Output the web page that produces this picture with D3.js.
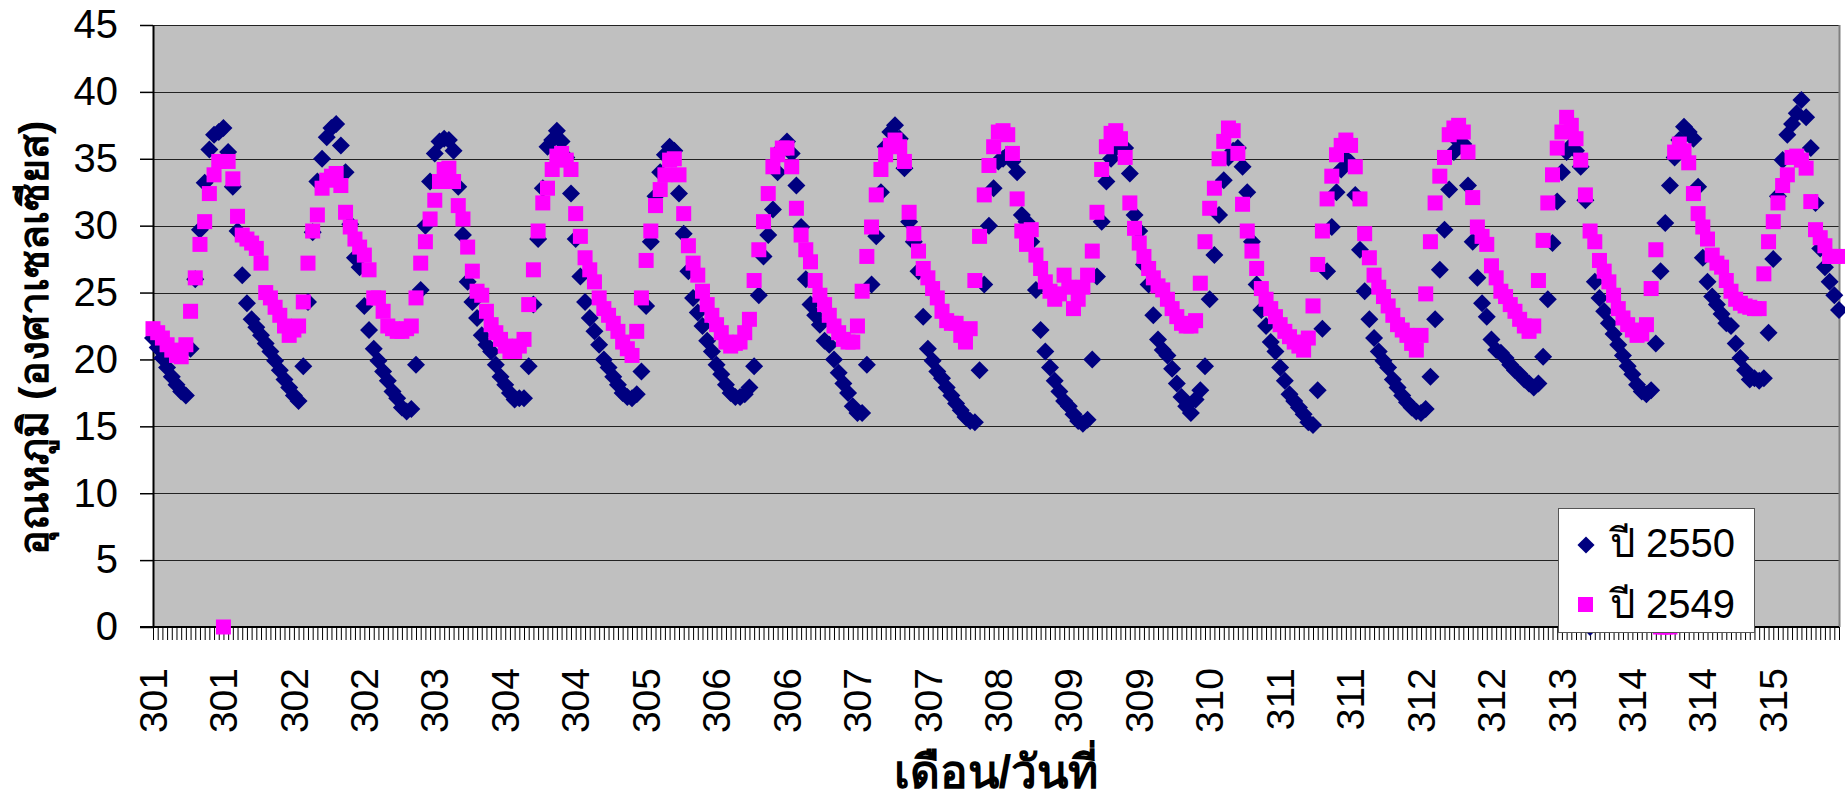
<!DOCTYPE html>
<html>
<head>
<meta charset="utf-8">
<script src="https://cdn.jsdelivr.net/npm/d3@7"></script>
<style>
  body { margin: 0; background: #fff; }
  text { font-family: "Liberation Sans", Arial, "Noto Sans", sans-serif; }
</style>
</head>
<body>
<script>
// hourly temperature, one row per day (301 .. 315)
const t2550 = [
  21.6,20.9,20.1,19.4,18.7,18.1,17.6,17.3,20.8,26.0,29.7,33.2,35.7,36.8,37.0,37.3,35.5,32.9,29.6,26.3,24.2,23.0,22.4,21.8,
  21.2,20.6,19.9,19.2,18.5,17.9,17.3,16.9,19.5,24.3,29.5,33.3,35.0,36.6,37.3,37.6,36.0,34.0,30.1,27.6,26.9,24.0,22.2,20.8,
  19.9,19.1,18.4,17.6,17.1,16.4,16.1,16.3,19.6,25.2,30.0,33.3,35.4,36.3,36.5,36.4,35.6,32.9,29.3,25.8,24.3,23.1,21.8,21.1,
  20.6,19.6,18.7,18.1,17.5,17.0,17.1,17.1,19.5,24.1,29.0,32.8,35.9,36.4,37.1,36.3,35.1,32.4,29.0,26.2,24.3,23.1,22.1,21.1,
  20.0,19.4,18.7,18.1,17.5,17.2,17.1,17.4,19.1,24.0,28.8,32.2,34.0,35.3,35.9,35.6,32.4,29.4,26.6,24.6,23.5,22.5,21.4,20.6,
  19.6,18.9,18.1,17.5,17.2,17.2,17.4,17.9,19.5,24.8,27.7,29.3,31.2,34.0,35.8,36.3,35.4,33.0,29.9,26.0,24.1,23.3,22.6,21.4,
  21.1,20.0,19.0,18.2,17.5,16.5,16.0,16.0,19.6,25.6,29.2,32.5,35.9,37.0,37.5,36.5,34.3,30.3,28.8,26.6,23.2,20.8,19.9,19.1,
  18.6,17.9,17.3,16.7,16.2,15.7,15.4,15.3,19.2,25.6,30.0,32.8,34.8,35.0,35.3,34.8,34.0,30.8,30.3,28.8,25.2,22.2,20.6,19.4,
  18.4,17.6,16.9,16.5,15.9,15.4,15.2,15.5,20.0,26.2,30.3,33.3,35.0,35.8,36.0,35.8,33.9,30.8,29.6,27.1,25.6,23.3,21.5,20.7,
  20.3,19.3,18.2,17.2,16.5,16.0,17.0,17.7,19.5,24.5,27.8,30.8,33.4,35.1,35.6,35.8,34.4,32.5,28.8,25.6,23.7,22.5,21.3,20.6,
  19.4,18.4,17.4,16.9,16.4,15.9,15.3,15.1,17.7,22.3,26.6,29.9,32.5,34.2,35.0,34.7,32.3,28.2,25.1,23.0,21.6,20.6,19.9,19.4,
  18.5,17.9,17.3,16.8,16.4,16.1,16.0,16.3,18.7,23.0,26.7,29.7,32.7,35.5,36.3,36.1,33.0,28.8,26.1,24.2,23.2,21.5,20.7,20.5,
  20.1,19.6,19.2,18.9,18.5,18.2,17.9,18.2,20.2,24.5,28.7,31.8,34.0,35.5,36.0,35.6,34.4,31.9,0,25.8,24.6,23.6,22.7,21.9,
  21.1,20.3,19.5,18.9,18.1,17.6,17.4,17.7,21.2,26.6,30.2,33.0,35.1,36.4,37.4,37.0,36.5,32.9,27.6,25.8,24.7,24.1,23.4,22.7,
  22.5,21.2,20.1,19.2,18.5,18.6,18.4,18.6,22.0,27.5,32.2,34.9,36.8,37.6,38.4,39.4,38.1,35.8,31.7,28.3,26.9,25.8,24.8,23.7
]
const t2549 = [
  22.3,22.0,21.6,21.1,20.7,20.3,20.2,21.1,23.6,26.1,28.6,30.3,32.4,33.8,34.8,0,34.8,33.5,30.7,29.3,29.0,28.7,28.3,27.2,
  25.0,24.6,23.9,23.3,22.5,21.8,22.2,22.5,24.3,27.2,29.6,30.8,32.8,33.4,33.7,33.9,33.0,31.0,29.9,29.0,28.4,27.8,26.7,24.6,
  24.6,23.6,22.5,22.3,22.1,22.1,22.3,22.5,24.6,27.2,28.8,30.5,31.9,33.3,34.2,34.3,33.3,31.5,30.5,28.4,26.6,25.1,24.8,23.6,
  22.6,22.0,21.5,21.0,20.6,20.6,21.0,21.5,24.1,26.7,29.6,31.7,32.8,34.2,35.2,35.4,34.9,34.2,30.9,29.2,27.6,26.7,25.8,24.6,
  23.8,23.3,22.7,22.1,21.3,20.8,20.3,22.1,24.6,27.4,29.6,31.5,32.7,33.8,34.9,35.0,33.8,30.9,28.5,27.2,26.3,25.1,24.1,23.3,
  22.6,22.0,21.3,21.0,21.2,21.3,22.0,23.0,25.9,28.2,30.3,32.4,34.4,35.3,35.8,35.8,34.4,31.3,29.3,28.2,27.3,25.9,24.8,24.1,
  23.3,22.5,22.0,21.5,21.3,21.3,22.5,25.1,27.7,29.9,32.3,34.2,35.3,36.0,36.4,35.9,34.8,31.0,29.4,28.1,26.8,26.1,25.3,24.6,
  23.6,22.9,22.7,22.7,21.8,21.3,22.3,25.9,29.2,32.3,34.5,35.9,37.0,37.1,36.8,35.4,32.0,29.6,28.6,29.7,27.8,26.8,25.8,25.1,
  24.5,24.9,26.3,25.4,23.8,24.5,25.4,26.3,28.1,31.0,34.2,35.9,36.9,37.1,36.5,35.1,31.7,29.8,28.7,27.7,26.8,26.1,25.5,25.2,
  24.5,23.8,23.2,22.7,22.5,22.5,22.9,25.7,28.8,31.3,32.8,35.0,36.3,37.3,37.1,35.4,31.6,29.6,28.1,26.8,25.3,24.5,23.8,23.2,
  22.6,22.1,21.7,21.3,21.0,20.7,21.6,24.0,27.1,29.6,32.0,33.7,35.3,36.0,36.4,36.0,34.4,32.0,29.4,27.6,26.3,25.4,24.7,24.0,
  23.3,22.6,22.2,21.8,21.2,20.7,21.8,24.9,28.8,31.7,33.7,35.1,36.8,37.3,37.5,37.0,35.5,32.1,29.9,29.2,28.6,27.0,26.1,25.1,
  24.7,24.1,23.6,23.0,22.5,22.1,22.5,25.9,28.9,31.7,33.8,35.8,37.0,38.1,37.5,36.5,34.9,32.3,29.6,28.8,27.4,26.6,25.8,24.8,
  23.8,23.1,22.6,22.2,21.8,21.9,22.6,25.3,28.2,0,0,0,35.5,36.1,35.6,34.7,32.4,30.9,29.9,29.0,27.8,27.2,26.9,25.9,
  25.1,24.5,24.2,24.0,23.9,23.8,23.8,26.4,28.8,30.3,31.7,33.0,33.8,35.1,35.2,34.9,34.3,31.8,29.7,29.1,28.5,27.7,27.7,27.7
]
// label shown every 15th hour
const tickLabels = ['301','301','302','302','303','304','304','305','306','306','307','307',
  '308','309','309','310','311','311','312','312','313','314','314','315']
const labelStep = 15
const yTicks = [0,5,10,15,20,25,30,35,40,45]
const seriesNames = ['ปี 2550','ปี 2549']
const xTitle = 'เดือน/วันที่'
const yTitle = 'อุณหภูมิ (องศาเซลเซียส)'

const W = 1845, H = 798
const plot = {left: 153, right: 1839, top: 25, bottom: 627}

const idx = d3.range(t2550.length)
const x = d3.scalePoint().domain(idx).range([plot.left, plot.right])
const y = d3.scaleLinear().domain([0,45]).range([plot.bottom, plot.top])

const svg = d3.select('body').append('svg')
  .attr('width', W)
  .attr('height', H)

svg.append('rect')
  .attr('x', plot.left).attr('y', plot.top)
  .attr('width', plot.right - plot.left).attr('height', plot.bottom - plot.top)
  .attr('fill', '#c0c0c0')

// gridlines
svg.selectAll('.grid')
  .data(yTicks.filter(d => d > 0))
  .enter().append('line')
  .attr('class', 'grid')
  .attr('x1', plot.left).attr('x2', plot.right)
  .attr('y1', d => Math.round(y(d)) + 0.5).attr('y2', d => Math.round(y(d)) + 0.5)
  .attr('stroke', '#222').attr('stroke-width', 1)

// right border
svg.append('line')
  .attr('x1', plot.right + 0.5).attr('x2', plot.right + 0.5)
  .attr('y1', plot.top).attr('y2', plot.bottom)
  .attr('stroke', '#808080').attr('stroke-width', 2)

// y axis
const yAxis = svg.append('g')
  .attr('transform', `translate(${plot.left},0)`)
  .call(d3.axisLeft(y).tickValues(yTicks).tickSize(13).tickPadding(22).tickSizeOuter(0))
yAxis.select('.domain').attr('stroke', '#000').attr('stroke-width', 2)
yAxis.selectAll('.tick line').attr('stroke', '#000').attr('stroke-width', 1.5)
yAxis.selectAll('.tick text')
  .attr('font-size', 40).attr('fill', '#000')
  .style('font-family', '"Liberation Sans", Arial, sans-serif')

// x axis, a tick for every hour
const xAxis = svg.append('g')
  .attr('transform', `translate(0,${plot.bottom})`)
  .call(d3.axisBottom(x).tickSize(13).tickFormat('').tickSizeOuter(0))
xAxis.select('.domain').attr('stroke', '#000').attr('stroke-width', 2)
  .attr('d', `M${plot.left - 13},0H${plot.right}`)
xAxis.selectAll('.tick line').attr('stroke', '#000').attr('stroke-width', 1)

svg.selectAll('.xlab')
  .data(tickLabels)
  .enter().append('text')
  .attr('class', 'xlab')
  .attr('transform', (d, i) => `translate(${x(i * labelStep)},${plot.bottom + 41}) rotate(-90)`)
  .attr('text-anchor', 'end')
  .attr('dy', '0.35em')
  .attr('font-size', 39)
  .text(d => d)

// axis titles
svg.append('text')
  .attr('x', (plot.left + plot.right) / 2).attr('y', 788)
  .attr('text-anchor', 'middle')
  .attr('font-size', 46).attr('font-weight', 'bold')
  .text(xTitle)

svg.append('text')
  .attr('transform', `translate(34,338) rotate(-90)`)
  .attr('text-anchor', 'middle')
  .attr('dy', '0.35em')
  .attr('font-size', 41).attr('font-weight', 'bold')
  .text(yTitle)

// markers
const diamond = 'M0,-9L9,0L0,9L-9,0Z'
svg.append('g').selectAll('path')
  .data(t2550)
  .enter().append('path')
  .attr('transform', (d, i) => `translate(${x(i)},${y(d)})`)
  .attr('d', diamond)
  .attr('fill', '#000080')

svg.append('g').selectAll('rect')
  .data(t2549)
  .enter().append('rect')
  .attr('x', (d, i) => x(i) - 7.5).attr('y', d => y(d) - 7.5)
  .attr('width', 15).attr('height', 15)
  .attr('fill', '#ff00ff')

// legend
const lg = svg.append('g').attr('transform', 'translate(1558,508)')
lg.append('rect')
  .attr('x', 0.5).attr('y', 0.5).attr('width', 196).attr('height', 124)
  .attr('fill', '#fff').attr('stroke', '#555')
lg.append('path').attr('d', diamond).attr('transform', 'translate(28,37) scale(0.95)').attr('fill', '#000080')
lg.append('rect').attr('x', 20).attr('y', 89).attr('width', 15).attr('height', 15).attr('fill', '#ff00ff')
lg.selectAll('.lt')
  .data(seriesNames)
  .enter().append('text')
  .attr('class', 'lt')
  .attr('x', 52).attr('y', (d, i) => 49 + i * 61)
  .attr('font-size', 40)
  .text(d => d)
</script>
</body>
</html>
